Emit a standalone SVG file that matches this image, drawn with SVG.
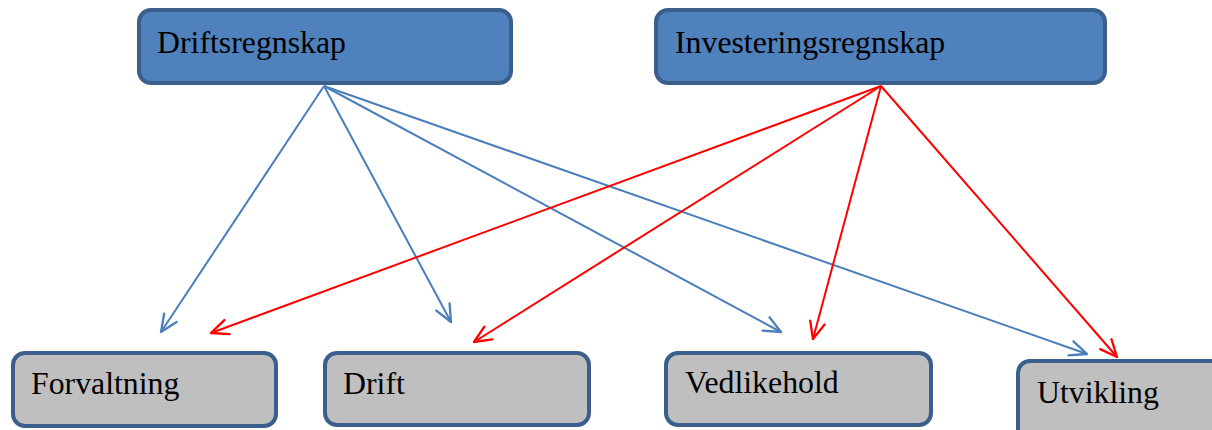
<svg xmlns="http://www.w3.org/2000/svg" width="1212" height="430" viewBox="0 0 1212 430">
  <style>
    .box rect { stroke: #3A5F8C; stroke-width: 4; }
    .top rect { fill: #4F81BD; }
    .bottom rect { fill: #BFBFBF; }
    .label { font-family: "Liberation Serif", "Times New Roman", serif; font-size: 31.8px; fill: #000; }
    .blue { stroke: #4A7EBB; stroke-width: 2; fill: none; marker-end: url(#headBlue); }
    .red { stroke: #FF0000; stroke-width: 2; fill: none; marker-end: url(#headRed); }
  </style>
  <defs>
    <marker id="headBlue" viewBox="-19 -10 21 20" refX="0" refY="0" markerWidth="21" markerHeight="20" markerUnits="userSpaceOnUse" orient="auto">
      <path d="M-17,-7.5 L0,0 L-17,7.5" fill="none" stroke="#4A7EBB" stroke-width="2.3" stroke-linecap="round" stroke-linejoin="round"/>
    </marker>
    <marker id="headRed" viewBox="-19 -10 21 20" refX="0" refY="0" markerWidth="21" markerHeight="20" markerUnits="userSpaceOnUse" orient="auto">
      <path d="M-17,-7.5 L0,0 L-17,7.5" fill="none" stroke="#FF0000" stroke-width="2.3" stroke-linecap="round" stroke-linejoin="round"/>
    </marker>
  </defs>

  <rect width="1212" height="430" fill="#FFFFFF"/>

  <!-- connectors -->
  <g id="connectors">
    <line class="blue" x1="324" y1="86" x2="161" y2="332"/>
    <line class="blue" x1="324" y1="86" x2="451" y2="322"/>
    <line class="blue" x1="324" y1="86" x2="781" y2="332"/>
    <line class="blue" x1="324" y1="86" x2="1087" y2="354"/>
    <line class="red" x1="881" y1="86" x2="211" y2="333"/>
    <line class="red" x1="881" y1="86" x2="474" y2="342"/>
    <line class="red" x1="881" y1="86" x2="813" y2="339"/>
    <line class="red" x1="881" y1="86" x2="1117" y2="357"/>
  </g>

  <!-- top nodes -->
  <g id="driftsregnskap" class="box top">
    <rect x="139" y="10" width="372" height="73" rx="12"/>
    <text class="label" x="157" y="53">Driftsregnskap</text>
  </g>
  <g id="investeringsregnskap" class="box top">
    <rect x="656" y="10" width="449" height="73" rx="12"/>
    <text class="label" x="675" y="53">Investeringsregnskap</text>
  </g>

  <!-- bottom nodes -->
  <g id="forvaltning" class="box bottom">
    <rect x="13" y="353" width="263" height="73" rx="12"/>
    <text class="label" x="31" y="394">Forvaltning</text>
  </g>
  <g id="drift" class="box bottom">
    <rect x="325" y="353" width="264" height="72" rx="12"/>
    <text class="label" x="343" y="394">Drift</text>
  </g>
  <g id="vedlikehold" class="box bottom">
    <rect x="666" y="353" width="265" height="72" rx="12"/>
    <text class="label" x="685" y="393">Vedlikehold</text>
  </g>
  <g id="utvikling" class="box bottom">
    <rect x="1018" y="361" width="230" height="90" rx="12"/>
    <text class="label" x="1037" y="403">Utvikling</text>
  </g>
</svg>
